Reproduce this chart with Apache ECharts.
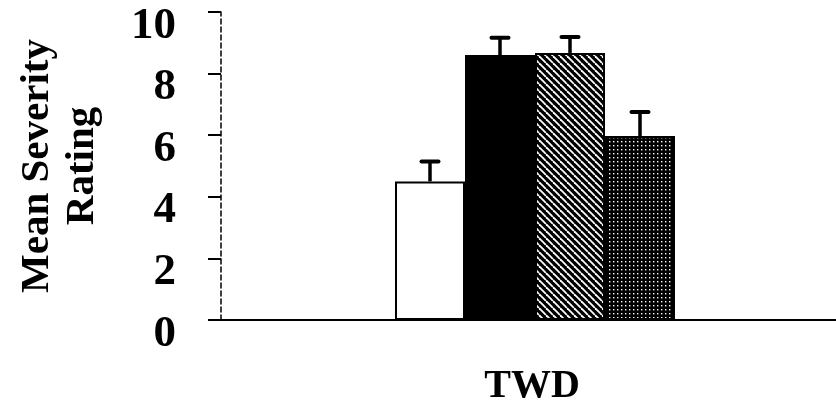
<!DOCTYPE html>
<html>
<head>
<meta charset="utf-8">
<script src="https://cdn.jsdelivr.net/npm/echarts@6/dist/echarts.min.js"></script>
<style>html,body{margin:0;padding:0;background:#fff;}#c{width:836px;height:411px;}</style>
</head>
<body>
<div id="c"></div>
<script>
// ---- data ----
var categories = ['TWD'];
var seriesNames = ['Group A', 'Group B', 'Group C', 'Group D'];
var meanValues = [4.5, 8.6, 8.67, 5.97];
var errorTops = [5.15, 9.16, 9.19, 6.75];
var yTicks = [0, 2, 4, 6, 8, 10];

function makeHatch() {
  var s = 7, c = document.createElement('canvas');
  c.width = s; c.height = s;
  var g = c.getContext('2d');
  g.fillStyle = '#000'; g.fillRect(0, 0, s, s);
  g.strokeStyle = '#fff'; g.lineWidth = 1.8;
  [-s, 0, s].forEach(function (o) {
    g.beginPath(); g.moveTo(o, 0); g.lineTo(o + s, s); g.stroke();
  });
  return c;
}
function makeDots() {
  var s = 4, c = document.createElement('canvas');
  c.width = s; c.height = s;
  var g = c.getContext('2d');
  g.fillStyle = '#000'; g.fillRect(0, 0, s, s);
  g.fillStyle = '#fff'; g.fillRect(1, 1, 1.4, 1.4);
  return c;
}
var fills = ['#ffffff', '#000000', { image: makeHatch(), repeat: 'repeat' }, { image: makeDots(), repeat: 'repeat' }];

var BAR_W = 70;
var serif = '"Liberation Serif", "DejaVu Serif", serif';

var barSeries = seriesNames.map(function (n, i) {
  return {
    name: n, type: 'bar', barWidth: BAR_W, barGap: '0%',
    data: [meanValues[i]],
    itemStyle: { color: fills[i], borderColor: '#000', borderWidth: 2 },
    z: 2
  };
});

var errData = meanValues.map(function (v, i) { return [0, v, errorTops[i], i]; });
var errSeries = {
  type: 'custom', z: 5,
  data: errData,
  encode: { x: 0, y: [1, 2] },
  renderItem: function (params, api) {
    var idx = api.value(3);
    var p0 = api.coord([api.value(0), api.value(1)]);
    var p1 = api.coord([api.value(0), api.value(2)]);
    var x = p0[0] + (idx - (seriesNames.length - 1) / 2) * BAR_W;
    return {
      type: 'group',
      children: [
        { type: 'line', shape: { x1: x, y1: p0[1], x2: x, y2: p1[1] }, style: { stroke: '#000', lineWidth: 3.5 } },
        { type: 'line', shape: { x1: x - 8.5, y1: p1[1], x2: x + 8.5, y2: p1[1] }, style: { stroke: '#000', lineWidth: 4, lineCap: 'round' } }
      ]
    };
  }
};

var chart = echarts.init(document.getElementById('c'));
chart.setOption({
  animation: false,
  backgroundColor: '#fff',
  grid: { left: 221, right: -13, top: 12, bottom: 91, containLabel: false, outerBoundsMode: 'none' },
  xAxis: {
    type: 'category', data: categories,
    axisLine: { lineStyle: { color: '#000', width: 2 } },
    axisTick: { show: false },
    axisLabel: { margin: 47, fontSize: 40, fontWeight: 'bold', fontFamily: serif, color: '#000', padding: [0, 6, 0, 0] }
  },
  yAxis: {
    type: 'value', min: yTicks[0], max: yTicks[yTicks.length - 1], interval: 2,
    name: 'Mean Severity\nRating', nameLocation: 'middle', nameGap: 116,
    nameTextStyle: { fontSize: 41, fontWeight: 'bold', fontFamily: serif, color: '#000', lineHeight: 45 },
    axisLine: { show: true, lineStyle: { color: '#000', width: 1.5, type: [5, 3] } },
    axisTick: { show: true, inside: false, length: 13, lineStyle: { color: '#000', width: 2 } },
    axisLabel: { margin: 45, fontSize: 45, fontWeight: 'bold', fontFamily: serif, color: '#000', verticalAlign: 'top', lineHeight: 28 },
    splitLine: { show: false }
  },
  series: barSeries.concat([errSeries])
});
</script>
</body>
</html>
